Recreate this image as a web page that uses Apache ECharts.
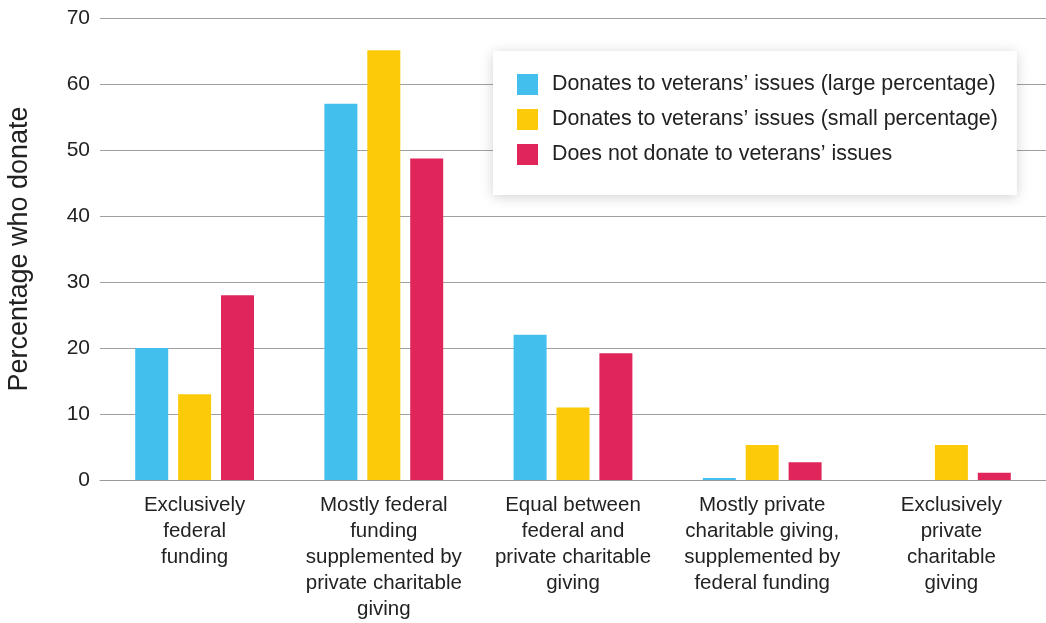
<!DOCTYPE html>
<html>
<head>
<meta charset="utf-8">
<script src="https://cdn.jsdelivr.net/npm/echarts@6/dist/echarts.min.js"></script>
<style>
  html, body { margin: 0; padding: 0; background: #fff; }
  #chart { width: 1046px; height: 623px; }
</style>
</head>
<body>
<div id="chart"></div>
<script>
// Funding preference categories (x axis)
const categories = [
  'Exclusively\nfederal\nfunding',
  'Mostly federal\nfunding\nsupplemented by\nprivate charitable\ngiving',
  'Equal between\nfederal and\nprivate charitable\ngiving',
  'Mostly private\ncharitable giving,\nsupplemented by\nfederal funding',
  'Exclusively\nprivate\ncharitable\ngiving'
];

// Percentage who donate, per donor group
const seriesNames = [
  'Donates to veterans\u2019 issues (large percentage)',
  'Donates to veterans\u2019 issues (small percentage)',
  'Does not donate to veterans\u2019 issues'
];
const largeDonors = [20, 57, 22, 0.3, 0];
const smallDonors = [13, 65.1, 11, 5.3, 5.3];
const nonDonors   = [28, 48.7, 19.2, 2.7, 1.1];

const colors = ['#43BFEE', '#FCCA08', '#E0255A'];
const font = '"Liberation Sans", Arial, sans-serif';

const chart = echarts.init(document.getElementById('chart'));
chart.setOption({
  animation: false,
  textStyle: { fontFamily: font },
  color: colors,
  grid: { left: 100, right: 0, top: 18, bottom: 143, containLabel: false, outerBoundsMode: 'none' },
  legend: {
    orient: 'vertical',
    left: 493,
    top: 51,
    padding: [23, 19, 30, 24],
    itemWidth: 21,
    itemHeight: 21,
    itemGap: 14,
    icon: 'rect',
    backgroundColor: '#fff',
    shadowBlur: 12,
    shadowColor: 'rgba(0,0,0,0.18)',
    shadowOffsetY: 2,
    textStyle: { fontSize: 21.4, color: '#222', fontFamily: font, padding: [0, 0, 0, 9] },
    data: seriesNames
  },
  xAxis: {
    type: 'category',
    data: categories,
    axisTick: { show: false },
    axisLine: { lineStyle: { color: '#999', width: 1 } },
    axisLabel: {
      interval: 0,
      fontSize: 20.5,
      lineHeight: 26,
      color: '#222',
      margin: 12,
      fontFamily: font
    }
  },
  yAxis: {
    type: 'value',
    min: 0,
    max: 70,
    interval: 10,
    name: 'Percentage who donate',
    nameLocation: 'middle',
    nameGap: 67,
    nameTextStyle: { fontSize: 27, color: '#222', fontFamily: font },
    axisLine: { show: false },
    axisTick: { show: false },
    axisLabel: { fontSize: 21, color: '#222', margin: 10, fontFamily: font },
    splitLine: { lineStyle: { color: '#a0a0a0', width: 1 } }
  },
  series: [
    { name: seriesNames[0], type: 'bar', data: largeDonors, barWidth: 33, barGap: '30%' },
    { name: seriesNames[1], type: 'bar', data: smallDonors, barWidth: 33, barGap: '30%' },
    { name: seriesNames[2], type: 'bar', data: nonDonors, barWidth: 33, barGap: '30%' }
  ]
});
</script>
</body>
</html>
